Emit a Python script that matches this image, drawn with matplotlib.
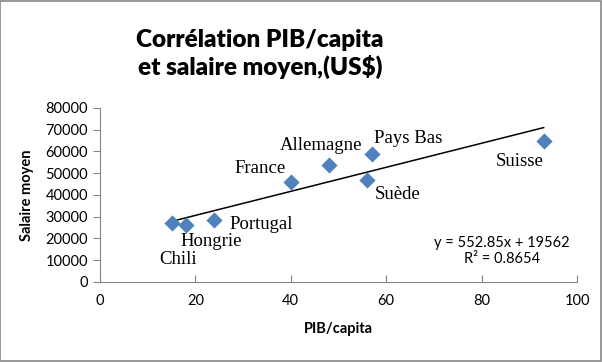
import numpy as np
import matplotlib
matplotlib.use('Agg')
import matplotlib.pyplot as plt
from matplotlib.patches import Rectangle

# données
pays = ['Chili', 'Hongrie', 'Portugal', 'France', 'Allemagne', 'Pays Bas', 'Suède', 'Suisse']
pib = [15, 18, 24, 40, 48, 57, 56, 93]
salaire = [27000, 26000, 28500, 45800, 54000, 59000, 47000, 65000]
# décalage des étiquettes (pixels)
decalage = [(7, -36), (25, -16), (47, -4), (-31, 14), (-8, 19), (36, 15), (30, -15), (-24, -21)]

pente, origine = 552.85, 19562
x_ticks = [0, 20, 40, 60, 80, 100]
y_ticks = list(range(0, 80001, 10000))

fig = plt.figure(figsize=(6.02, 3.62), dpi=100)
fig.patches.append(Rectangle((0.0008, 0.0014), 0.9975, 0.9958, transform=fig.transFigure,
                             fill=False, edgecolor='#868686', linewidth=1.2))
ax = fig.add_axes([0.1661, 0.221, 0.7924, 0.4807])

ax.scatter(pib, salaire, marker='D', s=68, color='#4F81BD', zorder=3, linewidths=0)

xs = np.array([min(pib), max(pib)])
ax.plot(xs, pente * xs + origine, color='black', linewidth=1.1, zorder=2)

for nom, x, y, d in zip(pays, pib, salaire, decalage):
    ax.annotate(nom, (x, y), xytext=d, textcoords='offset pixels', ha='center', va='center',
                fontsize=13.5, family='Liberation Serif')

ax.text(0.843, 0.178, 'y = 552.85x + 19562\nR² = 0.8654', transform=ax.transAxes,
        ha='center', va='center', fontsize=10.5, family='Lato', linespacing=1.2)

ax.set_xlim(0, 100)
ax.set_ylim(0, 80000)
ax.set_xticks(x_ticks)
ax.set_yticks(y_ticks)
for s in ['top', 'right']:
    ax.spines[s].set_visible(False)
for s in ['left', 'bottom']:
    ax.spines[s].set_color('#868686')
ax.tick_params(colors='#868686', labelcolor='black', labelsize=10.5, length=5)
ax.tick_params(axis='x', direction='in', pad=9)
for lab in ax.get_xticklabels() + ax.get_yticklabels():
    lab.set_family('Lato')

ax.set_xlabel('PIB/capita', fontsize=10.5, fontweight='bold', family='Lato', labelpad=10)
ax.set_ylabel('Salaire moyen', fontsize=10.5, fontweight='bold', family='Lato', labelpad=8)

fig.text(0.432, 0.85, 'Corrélation PIB/capita\net salaire moyen,(US$)', ha='center', va='center',
         fontsize=17.5, fontweight='heavy', family='Lato', linespacing=1.2)

fig.savefig('out.png', dpi=100)
